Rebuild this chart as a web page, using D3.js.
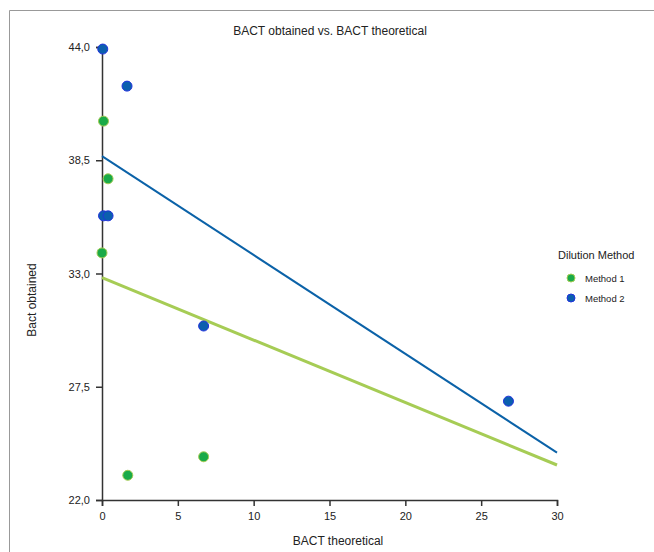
<!DOCTYPE html>
<html>
<head>
<meta charset="utf-8">
<script src="https://cdn.jsdelivr.net/npm/d3@7"></script>
<style>
  body { margin: 0; background: #fff; }
  svg { display: block; font-family: "Liberation Sans", Arial, sans-serif; }
</style>
</head>
<body>
<div class="chart"></div>
<script>
// values
var seriesNames = ["Method 1", "Method 2"];
var method1X = [0.1, 0.4, 0.0, 1.7, 6.7];
var method1Y = [40.4, 37.6, 34.0, 23.2, 24.1];
var method2X = [0.05, 1.65, 0.1, 0.4, 6.7, 26.8];
var method2Y = [43.9, 42.1, 35.8, 35.8, 30.45, 26.8];
// trend lines: value at x=0 and at x=30
var trendX = [0, 30];
var method1Trend = [32.8, 23.7];
var method2Trend = [38.7, 24.3];
var xTicks = [0, 5, 10, 15, 20, 25, 30];
var yTicks = [22, 27.5, 33, 38.5, 44];

function wrapper(){

var w = 654, h = 552;
var svg = d3.select("div.chart")
            .append("svg")
            .attr("width", w)
            .attr("height", h);

// frame (only top and left edges show)
svg.append("path")
   .attr("d", "M9.5,552V10.5H654")
   .attr("fill", "none")
   .attr("stroke", "#999")
   .attr("stroke-width", 1);

var x = d3.scaleLinear().domain([0, 30]).range([102, 557]);
var y = d3.scaleLinear().domain([22, 44]).range([500, 47]);

var comma = d3.formatLocale({decimal: ",", thousands: ".", grouping: [3], currency: ["", ""]});

var xAxis = svg.append("g")
   .attr("transform", "translate(0,500)")
   .call(d3.axisBottom(x).tickValues(xTicks).tickSize(6).tickPadding(6).tickFormat(d3.format("d")));

var yAxis = svg.append("g")
   .attr("transform", "translate(102,0)")
   .call(d3.axisLeft(y).tickValues(yTicks).tickSize(6).tickPadding(6).tickFormat(comma.format(".1f")));

[xAxis, yAxis].forEach(function(a){
  a.select(".domain").attr("stroke", "#333").attr("stroke-width", 1.5);
  a.selectAll(".tick line").attr("stroke", "#333").attr("stroke-width", 1.5);
  a.selectAll(".tick text").attr("fill", "#222").style("font-size", "11px")
   .style("font-family", "Liberation Sans, Arial, sans-serif");
});

// trend lines
var line = d3.line().x(d => x(d[0])).y(d => y(d[1]));
svg.append("path")
   .datum(trendX.map((d, i) => [d, method1Trend[i]]))
   .attr("d", line)
   .attr("fill", "none")
   .attr("stroke", "#a6cc55")
   .attr("stroke-width", 3);
svg.append("path")
   .datum(trendX.map((d, i) => [d, method2Trend[i]]))
   .attr("d", line)
   .attr("fill", "none")
   .attr("stroke", "#0b62a8")
   .attr("stroke-width", 2);

var styles = [
  {fill: "#1aaa48", stroke: "#a6cc55"},
  {fill: "#0b5fae", stroke: "#2233dd"}
];

var pts1 = method1X.map((d, i) => ({x: d, y: method1Y[i]}));
var pts2 = method2X.map((d, i) => ({x: d, y: method2Y[i]}));

[pts1, pts2].forEach(function(pts, k){
  svg.append("g").selectAll("circle")
     .data(pts)
     .enter()
     .append("circle")
     .attr("cx", d => x(d.x))
     .attr("cy", d => y(d.y))
     .attr("r", 5)
     .attr("fill", styles[k].fill)
     .attr("stroke", styles[k].stroke)
     .attr("stroke-width", 1);
});

// titles
svg.append("text")
   .attr("x", 330).attr("y", 35)
   .attr("text-anchor", "middle")
   .style("font-size", "12px")
   .attr("fill", "#222")
   .text("BACT obtained vs. BACT theoretical");

svg.append("text")
   .attr("x", 338).attr("y", 545)
   .attr("text-anchor", "middle")
   .style("font-size", "12px")
   .attr("fill", "#222")
   .text("BACT theoretical");

svg.append("text")
   .attr("transform", "translate(36,300) rotate(-90)")
   .attr("text-anchor", "middle")
   .style("font-size", "12px")
   .attr("fill", "#222")
   .text("Bact obtained");

// legend
var legend = svg.append("g").attr("transform", "translate(568,0)");
legend.append("text")
   .attr("x", -10).attr("y", 259)
   .style("font-size", "11px")
   .attr("fill", "#222")
   .text("Dilution Method");

seriesNames.forEach(function(name, i){
  legend.append("circle")
     .attr("cx", 3).attr("cy", 278 + i * 20)
     .attr("r", 4)
     .attr("fill", styles[i].fill)
     .attr("stroke", styles[i].stroke);
  legend.append("text")
     .attr("x", 17).attr("y", 282 + i * 20)
     .style("font-size", "9.5px")
     .attr("fill", "#222")
     .text(name);
});

}
window.onload = wrapper;
</script>
</body>
</html>
